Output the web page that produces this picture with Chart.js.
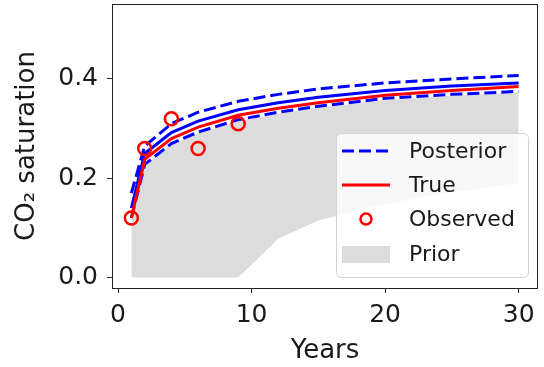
<!DOCTYPE html>
<html>
<head>
<meta charset="utf-8">
<script src="https://cdn.jsdelivr.net/npm/chart.js@4"></script>
<style>
  html, body { margin: 0; padding: 0; background: #fff; }
</style>
</head>
<body>
<canvas id="myChart" width="544" height="367"></canvas>
<script>
// simulation times and curves
var years = [1, 2, 4, 6, 9, 12, 15, 20, 25, 30];
var postUpper = [0.17, 0.265, 0.31, 0.333, 0.355, 0.369, 0.38, 0.392, 0.40, 0.407];
var postMean = [0.14, 0.25, 0.292, 0.315, 0.338, 0.352, 0.363, 0.377, 0.386, 0.392];
var postLower = [0.12, 0.228, 0.27, 0.293, 0.318, 0.333, 0.345, 0.361, 0.369, 0.375];
var trueSat = [0.12, 0.238, 0.28, 0.303, 0.327, 0.341, 0.352, 0.367, 0.377, 0.385];
var priorUpper = [0.12, 0.225, 0.267, 0.29, 0.315, 0.33, 0.342, 0.357, 0.366, 0.373];
var priorLower = [0, 0, 0, 0, 0, 0.078, 0.115, 0.148, 0.172, 0.19];

var obsYears = [1, 2, 4, 6, 9];
var obsSat = [0.12, 0.26, 0.32, 0.26, 0.31];

var xTicks = [0, 10, 20, 30];
var yTicks = [0, 0.2, 0.4];
var legendLabels = ['Posterior', 'True', 'Observed', 'Prior'];

function pts(xs, ys) {
  return xs.map(function (x, i) { return {x: x, y: ys[i]}; });
}

var FONT = 'DejaVu Sans';
var TXT = '#1a1a1a';

// matplotlib-like frame around the axes
var framePlugin = {
  id: 'frame',
  afterDatasetsDraw: function (chart) {
    var a = chart.chartArea, c = chart.ctx;
    c.save();
    c.strokeStyle = '#222';
    c.lineWidth = 1;
    c.strokeRect(Math.round(a.left) + 0.5, Math.round(a.top) + 0.5,
      Math.round(a.right - a.left) - 1, Math.round(a.bottom - a.top));
    c.restore();
  }
};

// legend drawn inside the axes, lower right
var legendPlugin = {
  id: 'innerLegend',
  afterDraw: function (chart) {
    var a = chart.chartArea, c = chart.ctx;
    var w = 192, h = 144;
    var x0 = a.right - 10 - w, y0 = a.bottom - 11 - h;
    c.save();
    c.beginPath();
    c.roundRect(x0 + 0.5, y0 + 0.5, w, h, 5);
    c.fillStyle = 'rgba(255,255,255,0.8)';
    c.fill();
    c.strokeStyle = '#d4d4d4';
    c.lineWidth = 1;
    c.stroke();

    var rowY = [y0 + 18, y0 + 52, y0 + 86, y0 + 121];
    c.font = '22px "' + FONT + '"';
    c.textBaseline = 'middle';
    c.fillStyle = TXT;
    legendLabels.forEach(function (lab, i) {
      var ds = chart.data.datasets.find(function (d) { return d.label === lab; });
      var y = rowY[i];
      var hx = x0 + 6, hw = 48;
      if (ds.type === 'scatter') {
        c.beginPath();
        c.arc(hx + hw / 2, y, 5.5, 0, Math.PI * 2);
        c.strokeStyle = ds.pointBorderColor;
        c.lineWidth = 2.5;
        c.stroke();
      } else if (ds.fill) {
        c.fillStyle = ds.backgroundColor;
        c.fillRect(hx, y - 8, hw, 17);
      } else {
        c.beginPath();
        c.setLineDash(ds.borderDash || []);
        c.moveTo(hx, y);
        c.lineTo(hx + hw, y);
        c.strokeStyle = ds.borderColor;
        c.lineWidth = ds.borderWidth;
        c.stroke();
        c.setLineDash([]);
      }
      c.fillStyle = TXT;
      c.fillText(lab, x0 + 73, y + 1);
    });
    c.restore();
  }
};

var ctx = document.getElementById('myChart').getContext('2d');
var myChart = new Chart(ctx, {
  type: 'line',
  data: {
    datasets: [{
        label: 'Posterior',
        data: pts(years, postUpper),
        borderColor: '#0000ff',
        borderWidth: 3,
        borderDash: [12, 5],
        pointRadius: 0,
        fill: false,
        order: 2
      }, {
        label: 'True',
        data: pts(years, trueSat),
        borderColor: '#ff0000',
        borderWidth: 3,
        pointRadius: 0,
        fill: false,
        order: 1
      }, {
        label: 'Observed',
        type: 'scatter',
        data: pts(obsYears, obsSat),
        pointRadius: 6.5,
        pointBorderWidth: 2.5,
        pointBorderColor: '#ff0000',
        pointBackgroundColor: 'rgba(0,0,0,0)',
        order: 0
      }, {
        label: '_priorLower',
        data: pts(years, priorLower),
        borderWidth: 0,
        borderColor: 'rgba(0,0,0,0)',
        pointRadius: 0,
        fill: false,
        order: 3
      }, {
        label: 'Prior',
        data: pts(years, priorUpper),
        borderWidth: 0,
        borderColor: 'rgba(0,0,0,0)',
        backgroundColor: '#dcdcdc',
        pointRadius: 0,
        fill: '-1',
        order: 3
      }, {
        label: '_postMean',
        data: pts(years, postMean),
        borderColor: '#0000ff',
        borderWidth: 3,
        pointRadius: 0,
        fill: false,
        order: 2
      }, {
        label: '_postLower',
        data: pts(years, postLower),
        borderColor: '#0000ff',
        borderWidth: 3,
        borderDash: [12, 5],
        pointRadius: 0,
        fill: false,
        order: 2
      }
    ]
  },
  options: {
    responsive: false,
    animation: false,
    events: [],
    layout: { autoPadding: false, padding: { top: 4, right: 6, left: 0, bottom: 0 } },
    plugins: {
      legend: { display: false },
      tooltip: { enabled: false }
    },
    scales: {
      x: {
        type: 'linear',
        min: -0.45,
        max: 31.45,
        afterBuildTicks: function (s) { s.ticks = xTicks.map(function (v) { return {value: v}; }); },
        afterFit: function (s) {
          s.height = 79;
          s.paddingLeft = 0;
          s.paddingRight = 0;
        },
        ticks: {
          color: TXT,
          font: { family: FONT, size: 25 },
          padding: 7,
          maxRotation: 0,
          callback: function (v) { return String(v); }
        },
        grid: { display: true, drawOnChartArea: false, drawTicks: true, tickLength: 5, color: '#222' },
        border: { display: false },
        title: {
          display: true,
          text: 'Years',
          color: TXT,
          font: { family: FONT, size: 26 },
          padding: { top: 0, bottom: 0 }
        }
      },
      y: {
        min: -0.021,
        max: 0.551,
        afterBuildTicks: function (s) { s.ticks = yTicks.map(function (v) { return {value: v}; }); },
        afterFit: function (s) {
          s.width = 112;
          s.paddingTop = 0;
          s.paddingBottom = 0;
        },
        ticks: {
          color: TXT,
          font: { family: FONT, size: 25 },
          padding: 9,
          callback: function (v) { return v.toFixed(1); }
        },
        grid: { display: true, drawOnChartArea: false, drawTicks: true, tickLength: 5, color: '#222' },
        border: { display: false },
        title: {
          display: true,
          text: 'CO₂ saturation',
          color: TXT,
          font: { family: FONT, size: 26 },
          padding: { top: 12, bottom: 0 }
        }
      }
    }
  },
  plugins: [framePlugin, legendPlugin]
});
</script>
</body>
</html>
